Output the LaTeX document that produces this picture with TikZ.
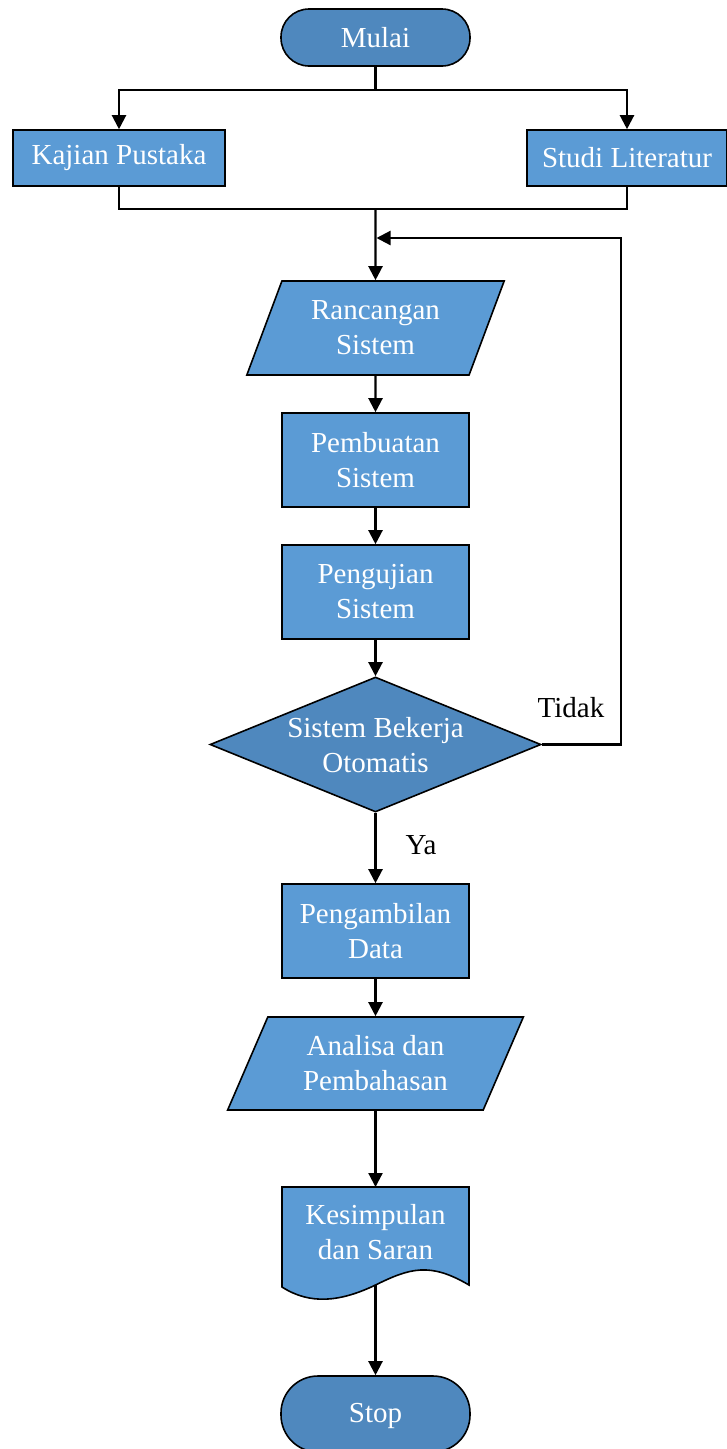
\documentclass[tikz,border=0pt]{standalone}
\usepackage{fontspec}
\setmainfont{Liberation Serif}
\usetikzlibrary{shapes.geometric,arrows.meta}
\definecolor{darkb}{HTML}{4F88BE}
\definecolor{lightb}{HTML}{5B9BD5}
\tikzset{
  base/.style={draw=black, line width=1.6pt, text=white, align=center, font=\fontsize{29}{35}\selectfont, inner sep=0pt},
  term/.style={base, fill=darkb, rectangle, rounded corners=28pt, minimum width=189pt, minimum height=57pt},
  proc/.style={base, fill=lightb, rectangle, minimum width=187pt, minimum height=94pt},
  io/.style={base, fill=lightb, trapezium, trapezium left angle=66, trapezium right angle=114, trapezium stretches=true, minimum width=258pt, minimum height=94pt},
  decision/.style={base, fill=darkb, diamond, minimum width=331pt, minimum height=135pt},
  txt/.style={text=white, align=center, font=\fontsize{29}{35}\selectfont, inner sep=0pt},
  lbl/.style={text=black, font=\fontsize{29}{35}\selectfont, inner sep=0pt},
  conn/.style={line width=2.2pt, draw=black},
  arr/.style={conn, -{Triangle[length=14pt,width=14pt]}}
}
\begin{document}
\begin{tikzpicture}[x=1pt,y=-1pt]
\path[use as bounding box] (0,0) rectangle (727,1449);
\clip (0,0) rectangle (727,1449);
% nodes
\node[term] (mulai) at (375.5,37.5) {Mulai};
\node[proc, minimum width=212pt, minimum height=56pt] (kaj) at (119,158) {Kajian Pustaka};
\node[proc, minimum width=200pt, minimum height=56pt] (stu) at (627,158) {Studi Literatur};
\node[io] (ran) at (375.5,328) {Rancangan\\Sistem};
\node[proc] (pemb) at (375.5,460) {Pembuatan\\Sistem};
\node[proc] (peng) at (375.5,592) {Pengujian\\Sistem};
\node[decision] (dec) at (375.5,744.5) {};
\node[txt] (dect) at (375.5,745) {Sistem Bekerja\\Otomatis};
\node[proc] (data) at (375.5,931) {Pengambilan\\Data};
\node[io, trapezium left angle=64, trapezium right angle=116, minimum width=296pt, minimum height=93pt] (ana) at (375.5,1063.5) {Analisa dan\\Pembahasan};
% document shape
\coordinate (kesTL) at (282,1187);
\node[txt, minimum width=187pt, minimum height=90pt] (kes) at (375.5,1230) {};
\draw[line width=1.6pt, fill=lightb] (282,1187) -- (469,1187) -- (469,1285)
  .. controls (430,1262) and (410,1268) .. (375.5,1285)
  .. controls (340,1302) and (310,1305) .. (282,1287) -- cycle;
\node[txt] (kest) at (375.5,1232) {Kesimpulan\\dan Saran};
\coordinate (kesB) at (375.5,1285);
\node[term, minimum height=76pt, rounded corners=37pt] (stop) at (375.5,1414) {};
\node[txt] (stopt) at (375.5,1416) {Stop};
% labels
\node[lbl] (ya) at (421,845) {Ya};
\node[lbl] (tidak) at (571,708) {Tidak};
% connectors
\coordinate (split) at (375.5,90);
\draw[conn] (mulai.south) -- (split);
\draw[arr] (split) -| (kaj.north);
\draw[arr] (split) -| (stu.north);
\coordinate (join) at (375.5,209);
\draw[conn] (kaj.south) |- (join) -| (stu.south);
\draw[arr] (join) -- (ran.north);
\draw[arr] (ran.south) -- (pemb.north);
\draw[arr] (pemb.south) -- (peng.north);
\draw[arr] (peng.south) -- (dec.north);
\draw[arr] (dec.south) -- (data.north);
\draw[arr] (data.south) -- (ana.north);
\draw[arr] (ana.south) -- (kes.north |- kesTL);
\draw[arr] (kesB) -- (stop.north);
\coordinate (fb1) at (621,744.5);
\coordinate (fb2) at (621,238);
\coordinate (fbend) at (376.5,238);
\draw[arr] (dec.east) -- (fb1) -- (fb2) -- (fbend);
\end{tikzpicture}
\end{document}
